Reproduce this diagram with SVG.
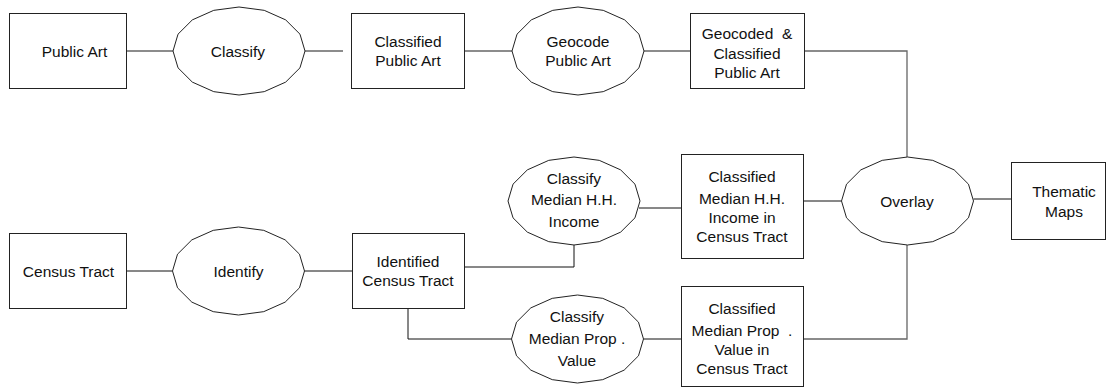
<svg xmlns="http://www.w3.org/2000/svg" width="1117" height="387" viewBox="0 0 1117 387">
<style>
.box{fill:#fff;stroke:#222;stroke-width:1}
.proc{fill:#fff;stroke:#222;stroke-width:1}
.t{font-family:"Liberation Sans",Arial,sans-serif;font-size:15.5px;fill:#111;text-anchor:middle;white-space:pre}
.cg{fill:none;stroke:#666;stroke-width:1.3}
.cb{fill:none;stroke:#111;stroke-width:1}
</style>
<defs>
<polygon id="oct" points="66,0 60.98,16.84 46.67,31.11 25.26,40.65 0,44 -25.26,40.65 -46.67,31.11 -60.98,16.84 -66,0 -60.98,-16.84 -46.67,-31.11 -25.26,-40.65 0,-44 25.26,-40.65 46.67,-31.11 60.98,-16.84"/>
</defs>
<rect width="1117" height="387" fill="#fff"/>
<g id="connectors">
<path class="cg" d="M126,51H173"/>
<path class="cg" d="M305,51H343"/>
<path class="cg" d="M465,51H512"/>
<path class="cg" d="M644,51H690"/>
<path class="cg" d="M804,51H907V157"/>
<path class="cb" d="M803,201H841.5"/>
<path class="cb" d="M973.5,199H1011"/>
<path class="cg" d="M907,245V339H803"/>
<path class="cb" d="M126,271H172.5"/>
<path class="cb" d="M304.5,271H352"/>
<path class="cb" d="M465,267H574V245"/>
<path class="cb" d="M408,308V339H511.5"/>
<path class="cb" d="M643.5,339H681"/>
<path class="cb" d="M639,208H681"/>
</g>
<g id="public-art"><rect class="box" x="9.5" y="13.5" width="117" height="75"/><text class="t" x="74.5" y="57">Public Art</text></g>
<g id="classify"><use href="#oct" class="proc" transform="translate(239,51)"/><text class="t" x="238" y="57">Classify</text></g>
<g id="classified-public-art"><rect class="box" x="351.5" y="13.5" width="113" height="75"/><text class="t" x="408" y="47">Classified</text><text class="t" x="408" y="66">Public Art</text></g>
<g id="geocode"><use href="#oct" class="proc" transform="translate(578,51)"/><text class="t" x="578" y="47">Geocode</text><text class="t" x="578" y="66">Public Art</text></g>
<g id="geocoded-classified"><rect class="box" x="690.5" y="13.5" width="114" height="75"/><text class="t" x="747" y="39">Geocoded  &amp;</text><text class="t" x="747" y="58.5">Classified</text><text class="t" x="747" y="78">Public Art</text></g>
<g id="census-tract"><rect class="box" x="9.5" y="233.5" width="117" height="75"/><text class="t" x="68.5" y="277">Census Tract</text></g>
<g id="identify"><use href="#oct" class="proc" transform="translate(238.5,271)"/><text class="t" x="238.5" y="277">Identify</text></g>
<g id="identified-census-tract"><rect class="box" x="352.5" y="233.5" width="112" height="75"/><text class="t" x="408" y="267">Identified</text><text class="t" x="408" y="286">Census Tract</text></g>
<g id="classify-hh"><use href="#oct" class="proc" transform="translate(574,201)"/><text class="t" x="574" y="184">Classify</text><text class="t" x="574" y="205">Median H.H.</text><text class="t" x="574" y="227">Income</text></g>
<g id="classify-prop"><use href="#oct" class="proc" transform="translate(577.5,339)"/><text class="t" x="577" y="322">Classify</text><text class="t" x="577" y="344">Median Prop .</text><text class="t" x="577" y="366">Value</text></g>
<g id="classified-hh"><rect class="box" x="681.5" y="154.5" width="122" height="104"/><text class="t" x="742" y="182">Classified</text><text class="t" x="742" y="204">Median H.H.</text><text class="t" x="742" y="223">Income in</text><text class="t" x="742" y="242">Census Tract</text></g>
<g id="classified-prop"><rect class="box" x="681.5" y="286.5" width="122" height="100"/><text class="t" x="742" y="314">Classified</text><text class="t" x="742" y="336">Median Prop  .</text><text class="t" x="742" y="355">Value in</text><text class="t" x="742" y="374">Census Tract</text></g>
<g id="overlay"><use href="#oct" class="proc" transform="translate(907.5,201)"/><text class="t" x="907" y="207">Overlay</text></g>
<g id="thematic-maps"><rect class="box" x="1011.5" y="162.5" width="94" height="77"/><text class="t" x="1064" y="197">Thematic</text><text class="t" x="1064" y="217">Maps</text></g>
</svg>
